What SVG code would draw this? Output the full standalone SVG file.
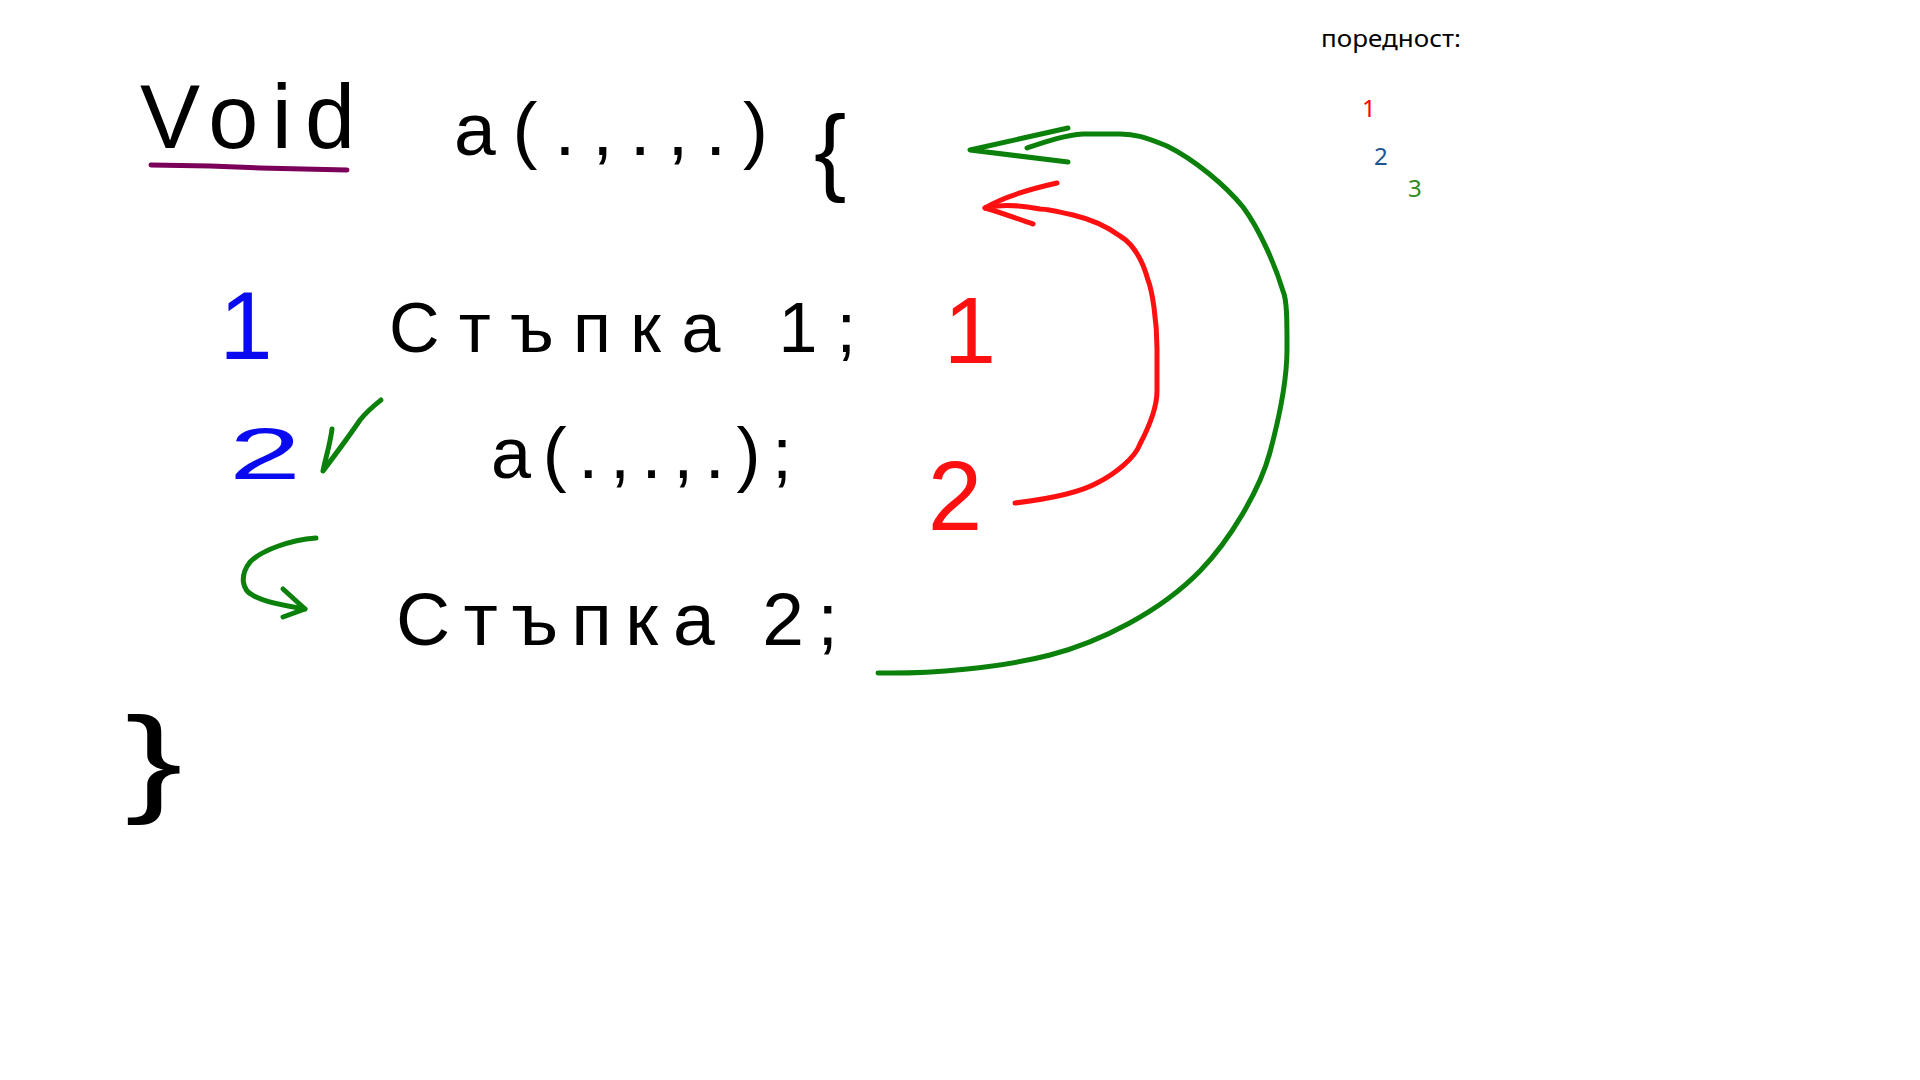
<svg xmlns="http://www.w3.org/2000/svg" width="1920" height="1080" viewBox="0 0 1920 1080">
  <style>
    .hw { font-family: "Liberation Sans", Arial, sans-serif; fill: #000; }
    .blue { fill: #0a0af0; }
    .red { fill: #ff1010; }
    .ink { fill: none; stroke-linecap: round; stroke-linejoin: round; stroke-width: 5; }
    .g { stroke: #0b800b; }
    .r { stroke: #ff1010; }
    .legend { font-family: "Noto Sans", "Open Sans", sans-serif; font-size: 24px; }
  </style>
  <rect width="1920" height="1080" fill="#ffffff"/>

  <g id="header">
    <text class="hw" x="140" y="148" font-size="90" textLength="215" lengthAdjust="spacing">Void</text>
    <path d="M151,165 L210,166 L260,168 L347,170" fill="none" stroke="#7a005a" stroke-width="5" stroke-linecap="round"/>
    <text class="hw" x="454" y="155" font-size="75" textLength="314" lengthAdjust="spacing">a(.,.,.)</text>
    <text class="hw" x="814" y="183" font-size="97">{</text>
  </g>

  <g id="step1">
    <text class="hw blue" x="246" y="359" font-size="96" text-anchor="middle">1</text>
    <text class="hw" x="389" y="352" font-size="70" textLength="467" lengthAdjust="spacing">Стъпка 1;</text>
    <text class="hw red" x="970" y="363" font-size="94" text-anchor="middle">1</text>
  </g>

  <g id="call">
    <text class="hw blue" font-size="72" text-anchor="middle" transform="translate(265,479) scale(1.8,1)">2</text>
    <path class="ink g" d="M332,429 C330,445 325,460 323,471 C335,455 352,432 360,420 C368,410 376,404 381,400"/>
    <text class="hw" x="491" y="478" font-size="72" textLength="301" lengthAdjust="spacing">a(.,.,.);</text>
    <text class="hw red" x="955" y="530" font-size="98" text-anchor="middle">2</text>
  </g>

  <g id="step2">
    <text class="hw" x="396" y="645" font-size="75" textLength="442" lengthAdjust="spacing">Стъпка 2;</text>
  </g>

  <g id="close-brace">
    <text class="hw" font-size="119" transform="translate(125,800) scale(1.45,1)">}</text>
  </g>

  <g id="legend">
    <text class="legend" x="1321" y="47" fill="#000" textLength="140" lengthAdjust="spacingAndGlyphs">поредност:</text>
    <text class="legend" x="1362" y="117" font-size="26" fill="#ff0000">1</text>
    <text class="legend" x="1374" y="165" font-size="26" fill="#1f5590">2</text>
    <text class="legend" x="1408" y="197" font-size="26" fill="#2e8b1e">3</text>
  </g>

  <g id="connectors">
    <path class="ink r" d="M1015,503 C1040,500 1075,495 1097,483 C1115,474 1135,458 1140,444 C1150,425 1157,405 1157,391 L1157,349 C1157,320 1152,290 1148,280 C1143,262 1135,245 1120,236 C1105,225 1090,219 1073,215 C1060,212 1045,209 1040,209 C1025,206 1005,204 988,207"/>
    <path class="ink r" d="M1057,183 C1030,189 1005,196 985,208"/>
    <path class="ink r" d="M985,208 C1000,212 1020,220 1033,224" stroke-width="7"/>
    <path class="ink g" d="M878,673 C930,674 1000,668 1050,655 C1100,642 1160,612 1200,571 C1230,540 1260,490 1270,452 C1280,415 1287,380 1287,349 C1287,320 1287,300 1283,291 C1275,265 1260,230 1243,207 C1225,185 1195,160 1167,146 C1145,137 1135,134 1120,134 L1083,134 C1065,135 1045,142 1027,148"/>
    <path class="ink g" d="M1068,128 L970,150 L1068,162"/>
    <path class="ink g" d="M316,538 C290,540 262,550 250,562 C240,575 241,590 254,596 C265,602 285,606 305,609"/>
    <path class="ink g" d="M283,589 L305,609 L283,617"/>
  </g>
</svg>
